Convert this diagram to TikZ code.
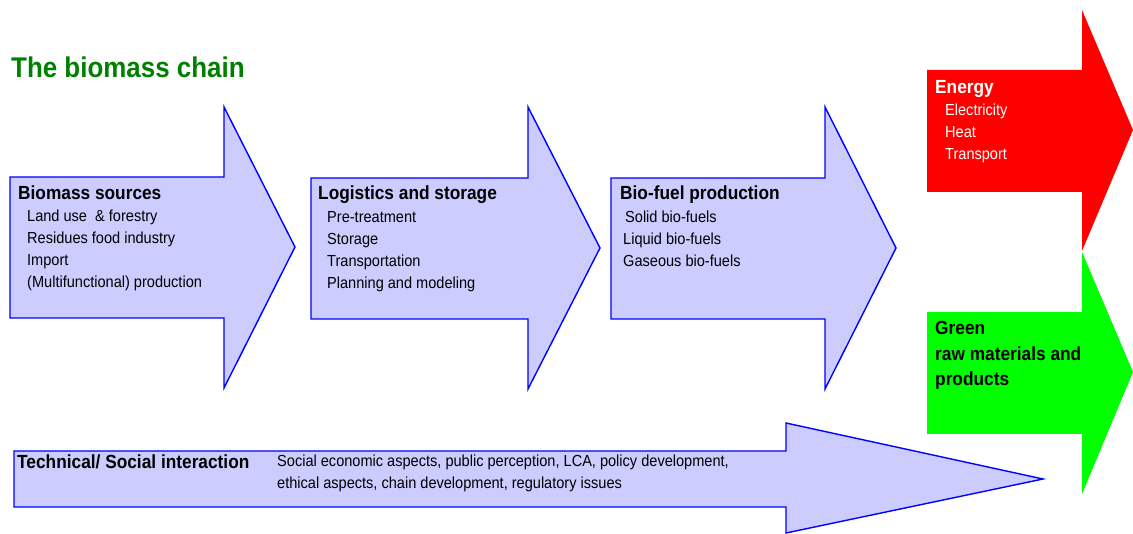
\documentclass[tikz,border=0pt]{standalone}
\usepackage{fontspec}
\setmainfont[FakeStretch=0.91]{Liberation Sans}
\begin{document}
\begin{tikzpicture}[x=1pt,y=-1pt,
  flowarrow/.style={draw=blue,fill=lavender,line width=1.4pt,line join=miter},
  energyarrow/.style={fill=red,draw=none},
  greenarrow/.style={fill=lime,draw=none},
  head/.style={anchor=base west,inner sep=0pt,font=\fontsize{19}{22}\selectfont\bfseries},
  item/.style={anchor=base west,inner sep=0pt,font=\fontsize{16}{22}\selectfont}]
\definecolor{lavender}{RGB}{204,204,255}
\definecolor{lime}{RGB}{0,255,0}
\definecolor{titlegreen}{RGB}{0,128,0}
\useasboundingbox (0,0) rectangle (1133,534);

% title
\node[anchor=base west,inner sep=0pt,text=titlegreen,font=\fontsize{28.5}{32}\selectfont\bfseries] (title) at (11,78) {The biomass chain};

% three chain arrows
\draw[flowarrow] (10,177) -- (224,177) -- (224,107) -- (295,247) -- (224,388) -- (224,318) -- (10,318) -- cycle;
\draw[flowarrow] (311,178) -- (528,178) -- (528,107) -- (600,248) -- (528,389) -- (528,319) -- (311,319) -- cycle;
\draw[flowarrow] (611,178) -- (825,178) -- (825,107) -- (896,248) -- (825,389) -- (825,319) -- (611,319) -- cycle;

% output arrows
\fill[energyarrow] (927,70) -- (1082,70) -- (1082,10) -- (1133,130) -- (1082,251) -- (1082,192) -- (927,192) -- cycle;
\fill[greenarrow] (927,312) -- (1082,312) -- (1082,252) -- (1133,372) -- (1082,494) -- (1082,434) -- (927,434) -- cycle;

% interaction arrow
\draw[flowarrow] (14,451) -- (786,451) -- (786,423) -- (1043,479) -- (786,533) -- (786,507) -- (14,507) -- cycle;

% chain texts
\node[head] (src) at (18,200) {Biomass sources};
\node[item] (src1) at (27,222) {Land use \ \& forestry};
\node[item] (src2) at (27,244) {Residues food industry};
\node[item] (src3) at (27,266) {Import};
\node[item] (src4) at (27,288) {(Multifunctional) production};

\node[head] (log) at (318,200) {Logistics and storage};
\node[item] (log1) at (327,223) {Pre-treatment};
\node[item] (log2) at (327,245) {Storage};
\node[item] (log3) at (327,267) {Transportation};
\node[item] (log4) at (327,289) {Planning and modeling};

\node[head] (bio) at (620,200) {Bio-fuel production};
\node[item] (bio1) at (625,223) {Solid bio-fuels};
\node[item] (bio2) at (623,245) {Liquid bio-fuels};
\node[item] (bio3) at (623,267) {Gaseous bio-fuels};

\node[head,text=white] (en) at (935,94) {Energy};
\node[item,text=white] (en1) at (945,116) {Electricity};
\node[item,text=white] (en2) at (945,138) {Heat};
\node[item,text=white] (en3) at (945,160) {Transport};

\node[head] (gr1) at (935,335) {Green};
\node[head] (gr2) at (935,361) {raw materials and};
\node[head] (gr3) at (935,386) {products};

\node[head] (tech) at (17,468) {Technical/ Social interaction};
\node[item] (tech1) at (277,467) {Social economic aspects, public perception, LCA, policy development,};
\node[item] (tech2) at (277,489) {ethical aspects, chain development, regulatory issues};
\end{tikzpicture}
\end{document}
